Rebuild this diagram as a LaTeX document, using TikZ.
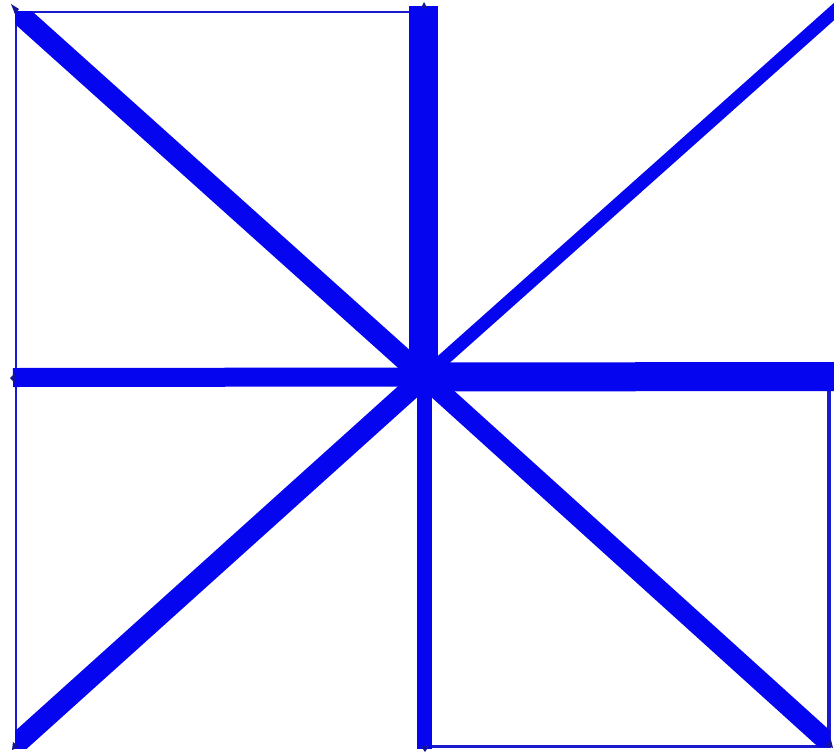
\documentclass[tikz,border=0pt]{standalone}
\definecolor{rayblue}{RGB}{5,5,240}
\definecolor{edgeblue}{RGB}{25,25,205}
\definecolor{tipblue}{RGB}{20,20,150}
\tikzset{
  ray/.style={draw=rayblue, line cap=butt},
  tipmark/.style={fill=tipblue, draw=none}
}
\begin{document}
\begin{tikzpicture}[x=1pt,y=-1pt]
\useasboundingbox (0,0) rectangle (834,755);
\fill[white] (0,0) rectangle (834,755);
\coordinate (C) at (424,377);
\coordinate (NW) at (15,10);
\coordinate (N) at (424,6);
\coordinate (NE) at (838,8);
\coordinate (E) at (834,376.5);
\coordinate (W) at (13,377.5);
\coordinate (SW) at (13,747);
\coordinate (S) at (424,749);
\coordinate (SE) at (831,745);
% thin frame lines
\draw[edgeblue, line width=2.5pt] (14,12) -- (424,12);
\draw[edgeblue, line width=2.5pt] (16,12) -- (16,746);
\draw[edgeblue, line width=3pt] (424,746) -- (831,746);
\draw[edgeblue, line width=4pt] (829,376) -- (829,746);
% thick rays
\begin{scope}
\clip (15,11) rectangle (500,500);
\draw[ray, line width=21pt] (C) -- (NW);
\end{scope}
\draw[ray, line width=29pt] (423.5,377) -- (423.5,6);
\draw[ray, line width=13pt] (C) -- (NE);
\draw[ray, line width=29pt] (C) -- (E);
\draw[ray, line width=19pt] (C) -- (W);
\begin{scope}
\clip (15,300) rectangle (500,748);
\draw[ray, line width=21pt] (C) -- (SW);
\end{scope}
\draw[ray, line width=15pt] (C) -- (S);
\begin{scope}
\clip (300,300) rectangle (830,746.5);
\draw[ray, line width=20pt] (C) -- (SE);
\end{scope}
% small tips
\fill[tipmark] (11,4) -- (19,9) -- (15,14) -- cycle;
\fill[tipmark] (424,2) -- (421,8) -- (427,8) -- cycle;
\fill[tipmark] (10,378) -- (15,373) -- (15,383) -- cycle;
\fill[tipmark] (12,750) -- (13,742) -- (19,747) -- cycle;
\fill[tipmark] (425,752) -- (421,746) -- (429,746) -- cycle;
\fill[tipmark] (833,748) -- (825,745) -- (831,740) -- cycle;
\end{tikzpicture}
\end{document}
